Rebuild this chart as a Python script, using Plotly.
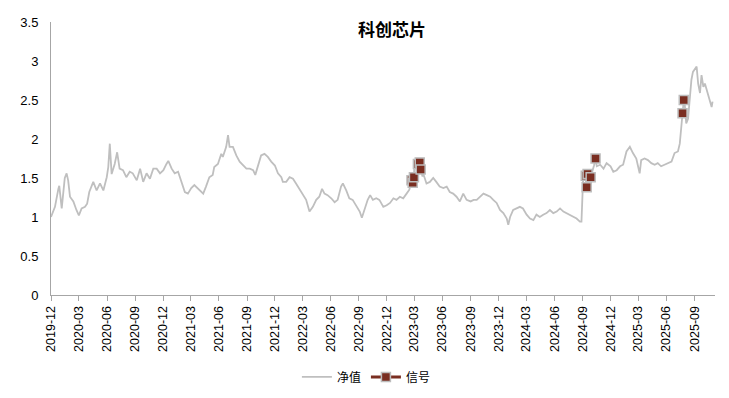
import plotly.graph_objects as go

# ---- data ----
dates = [
    "2019-12-01", "2019-12-14", "2019-12-25", "2019-12-28", "2020-01-05", "2020-01-15",
    "2020-01-21", "2020-01-26", "2020-02-01", "2020-02-12", "2020-02-22", "2020-03-01",
    "2020-03-10", "2020-03-21", "2020-03-28", "2020-04-04", "2020-04-17", "2020-04-28",
    "2020-05-09", "2020-05-20", "2020-05-31", "2020-06-05", "2020-06-10", "2020-06-16",
    "2020-06-26", "2020-07-04", "2020-07-12", "2020-07-23", "2020-08-03", "2020-08-14",
    "2020-08-24", "2020-09-06", "2020-09-17", "2020-09-27", "2020-10-08", "2020-10-19",
    "2020-10-30", "2020-11-10", "2020-11-21", "2020-12-02", "2020-12-12", "2020-12-18",
    "2020-12-29", "2021-01-08", "2021-01-19", "2021-01-30", "2021-02-10", "2021-02-20",
    "2021-03-03", "2021-03-13", "2021-03-24", "2021-04-04", "2021-04-11", "2021-04-20",
    "2021-05-01", "2021-05-12", "2021-05-17", "2021-05-29", "2021-06-09", "2021-06-14",
    "2021-06-25", "2021-07-01", "2021-07-06", "2021-07-17", "2021-07-28", "2021-08-08",
    "2021-08-19", "2021-08-30", "2021-09-10", "2021-09-21", "2021-09-28", "2021-10-07",
    "2021-10-17", "2021-10-28", "2021-11-08", "2021-11-19", "2021-12-01", "2021-12-11",
    "2021-12-22", "2021-12-27", "2022-01-07", "2022-01-18", "2022-01-29", "2022-02-08",
    "2022-02-19", "2022-03-02", "2022-03-13", "2022-03-24", "2022-04-04", "2022-04-15",
    "2022-04-25", "2022-05-04", "2022-05-12", "2022-05-22", "2022-06-03", "2022-06-14",
    "2022-06-24", "2022-07-05", "2022-07-11", "2022-07-22", "2022-08-01", "2022-08-12",
    "2022-08-23", "2022-09-04", "2022-09-11", "2022-09-20", "2022-09-30", "2022-10-08",
    "2022-10-17", "2022-10-28", "2022-11-07", "2022-11-10", "2022-11-20", "2022-12-01",
    "2022-12-12", "2022-12-23", "2023-01-02", "2023-01-13", "2023-01-24", "2023-02-04",
    "2023-02-13", "2023-02-20", "2023-02-24", "2023-02-28", "2023-03-02", "2023-03-08",
    "2023-03-13", "2023-03-19", "2023-03-22", "2023-03-28", "2023-03-30", "2023-04-10",
    "2023-04-21", "2023-05-02", "2023-05-12", "2023-05-23", "2023-06-04", "2023-06-15",
    "2023-06-25", "2023-07-06", "2023-07-17", "2023-07-28", "2023-08-08", "2023-08-19",
    "2023-09-01", "2023-09-11", "2023-09-21", "2023-10-02", "2023-10-13", "2023-10-24",
    "2023-11-04", "2023-11-14", "2023-11-25", "2023-12-06", "2023-12-17", "2023-12-28",
    "2024-01-02", "2024-01-08", "2024-01-18", "2024-01-29", "2024-02-09", "2024-02-19",
    "2024-03-02", "2024-03-13", "2024-03-24", "2024-04-03", "2024-04-14", "2024-04-25",
    "2024-05-06", "2024-05-17", "2024-05-28", "2024-06-08", "2024-06-19", "2024-06-30",
    "2024-07-10", "2024-07-21", "2024-08-01", "2024-08-12", "2024-08-23", "2024-08-28",
    "2024-09-02", "2024-09-06", "2024-09-11", "2024-09-14", "2024-09-17", "2024-09-22",
    "2024-09-27", "2024-10-03", "2024-10-08", "2024-10-13", "2024-10-17", "2024-10-28",
    "2024-11-08", "2024-11-18", "2024-12-01", "2024-12-10", "2024-12-21", "2025-01-01",
    "2025-01-11", "2025-01-22", "2025-02-02", "2025-02-12", "2025-02-23", "2025-03-06",
    "2025-03-11", "2025-03-22", "2025-04-02", "2025-04-13", "2025-04-24", "2025-05-04",
    "2025-05-15", "2025-05-26", "2025-06-07", "2025-06-18", "2025-06-28", "2025-07-09",
    "2025-07-15", "2025-07-20", "2025-07-24", "2025-07-28", "2025-07-31", "2025-08-05",
    "2025-08-11", "2025-08-16", "2025-08-22", "2025-08-27", "2025-09-08", "2025-09-13",
    "2025-09-19", "2025-09-24", "2025-09-30", "2025-10-05", "2025-10-11", "2025-10-16",
    "2025-10-21", "2025-10-27", "2025-10-30",
]
nav = [
    1.00, 1.13, 1.36, 1.40, 1.11, 1.50,
    1.56, 1.47, 1.26, 1.20, 1.09, 1.02,
    1.11, 1.13, 1.17, 1.32, 1.45, 1.34,
    1.43, 1.34, 1.51, 1.64, 1.94, 1.55,
    1.68, 1.83, 1.62, 1.60, 1.51, 1.58,
    1.56, 1.47, 1.62, 1.45, 1.56, 1.49,
    1.62, 1.62, 1.56, 1.60, 1.68, 1.72,
    1.62, 1.56, 1.58, 1.45, 1.32, 1.30,
    1.37, 1.41, 1.37, 1.32, 1.30, 1.39,
    1.51, 1.54, 1.64, 1.68, 1.81, 1.77,
    1.90, 2.05, 1.90, 1.90, 1.79, 1.71,
    1.66, 1.62, 1.62, 1.60, 1.54, 1.66,
    1.79, 1.81, 1.77, 1.71, 1.66, 1.56,
    1.51, 1.45, 1.45, 1.51, 1.49, 1.43,
    1.36, 1.28, 1.22, 1.07, 1.13, 1.22,
    1.26, 1.36, 1.30, 1.28, 1.24, 1.19,
    1.22, 1.39, 1.43, 1.34, 1.24, 1.22,
    1.15, 1.07, 0.99, 1.09, 1.22, 1.28,
    1.22, 1.24, 1.22, 1.20, 1.13, 1.15,
    1.18, 1.24, 1.22, 1.26, 1.24, 1.30,
    1.35, 1.47, 1.44, 1.51, 1.72, 1.66,
    1.68, 1.70, 1.61, 1.52, 1.56, 1.43,
    1.45, 1.50, 1.45, 1.39, 1.37, 1.39,
    1.32, 1.30, 1.26, 1.20, 1.30, 1.22,
    1.20, 1.22, 1.22, 1.26, 1.30, 1.28,
    1.26, 1.22, 1.18, 1.09, 1.05, 0.98,
    0.90, 1.00, 1.09, 1.11, 1.13, 1.11,
    1.03, 0.98, 0.96, 1.03, 1.00, 1.03,
    1.05, 1.09, 1.05, 1.07, 1.11, 1.07,
    1.05, 1.03, 1.00, 0.98, 0.94, 0.94,
    1.45, 1.55, 1.53, 1.38, 1.55, 1.54,
    1.51, 1.58, 1.66, 1.75, 1.65, 1.67,
    1.62, 1.69, 1.65, 1.58, 1.60, 1.65,
    1.67, 1.84, 1.90, 1.82, 1.75, 1.56,
    1.73, 1.75, 1.73, 1.69, 1.67, 1.69,
    1.65, 1.67, 1.69, 1.71, 1.82, 1.84,
    1.94, 2.16, 2.33, 2.50, 2.46, 2.20,
    2.26, 2.50, 2.76, 2.86, 2.93, 2.71,
    2.59, 2.82, 2.67, 2.71, 2.63, 2.56,
    2.50, 2.41, 2.48,
]

sig_dates = [
    "2023-02-20", "2023-02-24", "2023-02-28", "2023-03-13", "2023-03-19", "2023-03-22",
    "2024-09-11", "2024-09-14", "2024-09-17", "2024-09-27", "2024-10-13",
    "2025-07-24", "2025-07-28",
]
sig_vals = [
    1.47, 1.44, 1.51, 1.68, 1.70, 1.61,
    1.53, 1.38, 1.55, 1.51, 1.75,
    2.33, 2.50,
]

tick_labels = [
    "2019-12", "2020-03", "2020-06", "2020-09", "2020-12", "2021-03", "2021-06",
    "2021-09", "2021-12", "2022-03", "2022-06", "2022-09", "2022-12", "2023-03",
    "2023-06", "2023-09", "2023-12", "2024-03", "2024-06", "2024-09", "2024-12",
    "2025-03", "2025-06", "2025-09",
]
y_ticks = [0, 0.5, 1, 1.5, 2, 2.5, 3, 3.5]
y_tick_text = ["0", "0.5", "1", "1.5", "2", "2.5", "3", "3.5"]

title_text = "科创芯片"
name_nav = "净值"
name_sig = "信号"

# ---- styles ----
LINE_GREY = "#BFBFBF"
SIG_RED = "#7A2E21"
AXIS_GREY = "#A6A6A6"
CJK = "Noto Sans CJK SC, Noto Sans, sans-serif"
LAT = "Liberation Sans, Arial, sans-serif"

# the page body has an 8px margin; size the figure to fill the rest of the window
W, H = 721, 390

# signals drawn as isolated points (gaps between them)
sx, sy = [], []
for d, v in zip(sig_dates, sig_vals):
    sx += [d, None]
    sy += [v, None]

fig = go.Figure()
fig.add_trace(go.Scatter(
    x=dates, y=nav, mode="lines", name=name_nav,
    line=dict(color=LINE_GREY, width=1.8),
))
fig.add_trace(go.Scatter(
    x=sx, y=sy, mode="lines+markers", name=name_sig, connectgaps=False,
    line=dict(color=SIG_RED, width=3),
    marker=dict(symbol="square", size=9, color=SIG_RED,
                line=dict(color="#BDBDBD", width=1.5)),
))

fig.update_layout(
    width=W, height=H,
    margin=dict(l=43, r=14, t=14, b=103, autoexpand=False),
    paper_bgcolor="white", plot_bgcolor="white",
    showlegend=True,
    title=dict(text="<b>" + title_text + "</b>", x=384 / W, xanchor="center",
               y=1 - 22 / H, yanchor="middle",
               font=dict(family=CJK, size=17, color="#000000")),
    legend=dict(orientation="h", x=0.475, xanchor="center", y=-0.30, yanchor="middle",
                font=dict(family=CJK, size=12, color="#000000"),
                itemwidth=30, tracegroupgap=0, bgcolor="rgba(0,0,0,0)"),
    xaxis=dict(
        type="date", range=["2019-12-01", "2025-11-07"],
        tickmode="array", tickvals=[t + "-01" for t in tick_labels], ticktext=tick_labels,
        tickangle=-90, ticks="outside", ticklen=5, tickcolor=AXIS_GREY, tickwidth=1,
        showline=True, linecolor=AXIS_GREY, linewidth=1, showgrid=False, zeroline=False,
        tickfont=dict(family=LAT, size=12.5, color="#000000"),
    ),
    yaxis=dict(
        range=[0, 3.5], tickmode="array", tickvals=y_ticks, ticktext=y_tick_text,
        ticks="outside", ticklen=9, tickcolor="rgba(0,0,0,0)",
        showline=True, linecolor=AXIS_GREY, linewidth=1, showgrid=False, zeroline=False,
        tickfont=dict(family=LAT, size=13, color="#000000"),
    ),
)

fig.write_html("out.html")
